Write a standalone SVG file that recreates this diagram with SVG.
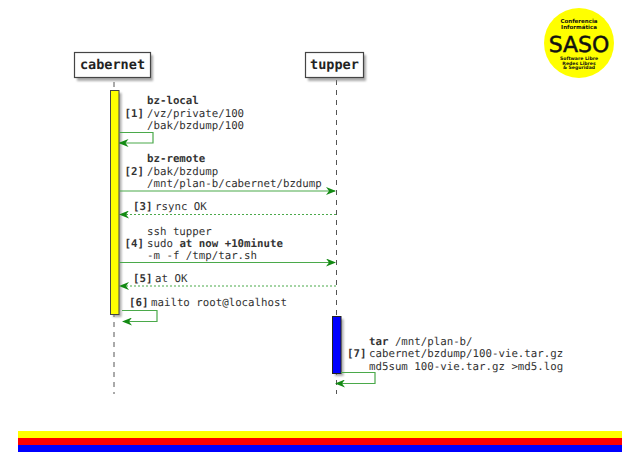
<svg xmlns="http://www.w3.org/2000/svg" width="640" height="452" viewBox="0 0 640 452">
<defs>
<style>
text{font-family:"DejaVu Sans Mono",monospace;font-size:10.75px;fill:#333;text-rendering:geometricPrecision}
.b{font-weight:bold}
.n{font-weight:bold;font-size:13.5px;text-anchor:middle;fill:#222}
.life{stroke:#555;stroke-width:1;stroke-dasharray:5 5;fill:none}
.c{stroke:#4aa94a;stroke-width:1.2;fill:none}
.d{stroke-dasharray:2 2}
.box{fill:#fefefe;stroke:#444;stroke-width:1.2}
.sh{fill:#888;opacity:.7;filter:url(#blur)}
.l{font-family:"DejaVu Sans",sans-serif;font-weight:bold;text-anchor:middle;fill:#111}
</style>
<filter id="blur" x="-30%" y="-30%" width="160%" height="160%"><feGaussianBlur stdDeviation="1.2"/></filter>
<marker id="ah" viewBox="0 0 10 8" refX="9" refY="4" markerWidth="10" markerHeight="8" markerUnits="userSpaceOnUse" orient="auto"><path d="M0 0L10 4L0 8L3 4Z" fill="#138a13"/></marker>
</defs>
<g id="lifelines">
<line class="life" x1="114" y1="82" x2="114" y2="394"/>
<line class="life" x1="336.500" y1="80" x2="336.500" y2="394"/>
</g>
<g id="node-cabernet">
<rect class="sh" x="77" y="55" width="76" height="26"/>
<rect class="box" x="74.500" y="52.500" width="76" height="25"/>
<text class="n" x="112.500" y="69">cabernet</text>
</g>
<g id="node-tupper">
<rect class="sh" x="308" y="55" width="58" height="26"/>
<rect class="box" x="305.500" y="52.500" width="58" height="25"/>
<text class="n" x="334.500" y="69">tupper</text>
</g>
<g id="activation-cabernet">
<rect class="sh" x="113" y="93" width="8.500" height="224"/>
<rect x="110.500" y="90.500" width="8.500" height="224" fill="#ff0" stroke="#444" stroke-width="1"/>
</g>
<g id="activation-tupper">
<rect class="sh" x="335" y="319" width="8.500" height="57"/>
<rect x="332.500" y="316.500" width="8.500" height="57" fill="#00f" stroke="#222" stroke-width="1"/>
</g>
<g id="connectors">
<path class="c" marker-end="url(#ah)" d="M119 132.500H153V143H119.500"/>
<line class="c" marker-end="url(#ah)" x1="119" y1="191" x2="335" y2="191"/>
<line class="c d" marker-end="url(#ah)" x1="336" y1="214.500" x2="120" y2="214.500"/>
<line class="c" marker-end="url(#ah)" x1="119" y1="262.500" x2="335" y2="262.500"/>
<line class="c d" marker-end="url(#ah)" x1="336" y1="286" x2="120" y2="286"/>
<path class="c" marker-end="url(#ah)" d="M122 310.500H157V321.500H123"/>
<path class="c" marker-end="url(#ah)" d="M341 372.500H375V383.500H336"/>
</g>
<g id="labels">
<text x="147" y="104" class="b">bz-local</text>
<text x="124.500" y="117" class="b">[1]</text><text x="147" y="116.500">/vz/private/100</text>
<text x="147" y="129">/bak/bzdump/100</text>
<text x="147" y="162" class="b">bz-remote</text>
<text x="124.500" y="174.500" class="b">[2]</text><text x="147" y="174.500">/bak/bzdump</text>
<text x="147" y="187">/mnt/plan-b/cabernet/bzdump</text>
<text x="133" y="210" class="b">[3]</text><text x="155" y="210">rsync OK</text>
<text x="147" y="234.500">ssh tupper</text>
<text x="124.500" y="247" class="b">[4]</text><text x="147" y="247">sudo <tspan class="b">at now +10minute</tspan></text>
<text x="147" y="259">-m -f /tmp/tar.sh</text>
<text x="133" y="282" class="b">[5]</text><text x="155" y="282">at OK</text>
<text x="129" y="306" class="b">[6]</text><text x="151" y="306">mailto root@localhost</text>
<text x="369" y="345" class="b">tar <tspan style="font-weight:normal">/mnt/plan-b/</tspan></text>
<text x="347" y="357" class="b">[7]</text><text x="369" y="357">cabernet/bzdump/100-vie.tar.gz</text>
<text x="369" y="370">md5sum 100-vie.tar.gz &gt;md5.log</text>
</g>
<g id="logo">
<circle cx="579" cy="43" r="35" fill="#ff0"/>
<text class="l" x="579" y="23" style="font-size:5.5px">Conferencia</text>
<text class="l" x="579" y="29" style="font-size:5.5px">Informática</text>
<text class="l" x="579" y="51.500" style="font-size:22px;font-weight:normal;stroke:#111;stroke-width:.5">SASO</text>
<text class="l" x="579" y="60" style="font-size:4.600px">Software Libre</text>
<text class="l" x="579" y="64.500" style="font-size:4.600px">Redes Libres</text>
<text class="l" x="579" y="69" style="font-size:4.600px">&amp; Seguridad</text>
</g>
<g id="stripes">
<rect x="18" y="431" width="604" height="7" fill="#ff0"/>
<rect x="18" y="438" width="604" height="7" fill="#f00"/>
<rect x="18" y="445" width="604" height="7" fill="#00f"/>
</g>
</svg>
